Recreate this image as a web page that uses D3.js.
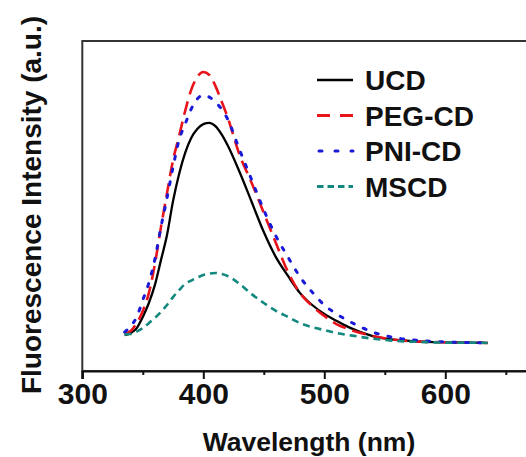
<!DOCTYPE html>
<html>
<head>
<meta charset="utf-8">
<script src="https://cdn.jsdelivr.net/npm/d3@7"></script>
<style>
  html, body { margin: 0; padding: 0; background: #fff; }
  svg { display: block; }
  text { font-family: "Liberation Sans", Arial, sans-serif; font-weight: bold; fill: #111; }
</style>
</head>
<body>
<svg id="chart" width="526" height="457"></svg>
<script>
// ---- data ----
const wavelength = [335,340,345,350,355,360,365,370,375,380,385,390,395,400,405,410,415,420,430,440,450,460,470,480,490,500,510,520,540,560,580,600,620,635];
const UCD    = [109,115,130,164,206,261,336,412,515,597,661,706,733,748,752,742,718,685,603,512,421,345,288,236,200,173,152,133,106,94,89,87,86,85];
const PEG_CD = [112,121,145,182,236,324,436,539,639,712,788,852,891,906,897,864,818,770,655,570,479,388,300,236,197,167,142,127,106,94,89,87,86,85];
const PNI_CD = [118,136,164,215,267,339,436,524,618,700,748,794,824,836,830,815,794,764,670,579,488,409,345,285,239,200,173,152,118,100,92,88,86,85];
const MSCD   = [111,112,120,130,145,161,179,200,224,245,264,274,283,291,295,297,294,288,264,233,206,182,164,145,133,124,115,109,98,91,88,86,86,85];
const seriesNames = ["UCD","PEG-CD","PNI-CD","MSCD"];
const xTicksMajor = [300,400,500,600];
const xTicksMinor = [350,450,550,650];
const xTitle = "Wavelength (nm)";
const yTitle = "Fluorescence Intensity (a.u.)";

// ---- layout ----
const svg = d3.select("#chart");
const mLeft = 82.3, mTop = 41, mBottom = 371;
const x = d3.scaleLinear().domain([300, 700]).range([mLeft, mLeft + 484]);
const y = d3.scaleLinear().domain([0, 1000]).range([mBottom, mTop]);

const styles = {
  "UCD":    {color: "#000000", dash: null,   width: 2.3, legDash: null,     legOff: 0},
  "PEG-CD": {color: "#e8141c", dash: "14,7", width: 2.6, legDash: "13,10",  legOff: 0},
  "PNI-CD": {color: "#1a1ad6", dash: "3,10", width: 3,   legDash: "3,13",   legOff: -2},
  "MSCD":   {color: "#13887e", dash: "7,5",  width: 2.6, legDash: "6.5,4",  legOff: 0}
};
const seriesData = [UCD, PEG_CD, PNI_CD, MSCD];

// frame
svg.append("rect")
  .attr("x", mLeft).attr("y", mTop)
  .attr("width", x(700) - mLeft).attr("height", mBottom - mTop)
  .attr("fill", "none").attr("stroke", "#333").attr("stroke-width", 2);

// curves
const line = d3.line()
  .x((d, i) => x(wavelength[i]))
  .y(d => y(d))
  .curve(d3.curveMonotoneX);

seriesNames.forEach((name, k) => {
  const st = styles[name];
  svg.append("path")
    .datum(seriesData[k])
    .attr("d", line)
    .attr("fill", "none")
    .attr("stroke", st.color)
    .attr("stroke-width", st.width)
    .attr("stroke-dasharray", st.dash)
    .attr("stroke-linecap", name === "PNI-CD" ? "round" : "butt");
});

// x axis
const axisMajor = d3.axisBottom(x).tickValues(xTicksMajor).tickSize(8).tickFormat(d3.format("d"));
const gx = svg.append("g").attr("transform", `translate(0,${mBottom})`).call(axisMajor);
gx.select(".domain").attr("stroke", "#111").attr("stroke-width", 2);
gx.selectAll(".tick line").attr("stroke", "#111").attr("stroke-width", 2);
gx.selectAll(".tick text")
  .attr("y", 12).attr("dy", "0.71em")
  .style("font-size", "30px")
  .style("font-family", "'Liberation Sans', Arial, sans-serif")
  .style("font-weight", "bold").attr("fill", "#111");

const axisMinor = d3.axisBottom(x).tickValues(xTicksMinor).tickSize(4).tickFormat("");
const gm = svg.append("g").attr("transform", `translate(0,${mBottom})`).call(axisMinor);
gm.select(".domain").remove();
gm.selectAll(".tick line").attr("stroke", "#111").attr("stroke-width", 2);

// left axis extension below (tick at 300 outward)
svg.append("line").attr("x1", mLeft).attr("x2", mLeft).attr("y1", mBottom).attr("y2", mBottom + 8)
  .attr("stroke", "#111").attr("stroke-width", 2);

// titles
svg.append("text")
  .attr("x", 309).attr("y", 451)
  .attr("text-anchor", "middle")
  .style("font-size", "26.5px")
  .text(xTitle);

svg.append("text")
  .attr("transform", "translate(41,205) rotate(-90)")
  .attr("text-anchor", "middle")
  .style("font-size", "28px")
  .text(yTitle);

// legend
const legX1 = 317, legX2 = 353, legY0 = 80, legDy = 35.5;
seriesNames.forEach((name, k) => {
  const st = styles[name];
  const yy = legY0 + k * legDy;
  svg.append("line")
    .attr("x1", legX1).attr("x2", legX2)
    .attr("y1", yy).attr("y2", yy)
    .attr("stroke", st.color)
    .attr("stroke-width", name === "UCD" ? 2.5 : 3)
    .attr("stroke-dasharray", st.legDash)
    .attr("stroke-dashoffset", st.legOff)
    .attr("stroke-linecap", name === "PNI-CD" ? "round" : "butt");
  svg.append("text")
    .attr("x", 365).attr("y", yy)
    .attr("dy", "0.36em")
    .style("font-size", "28px")
    .text(name);
});
</script>
</body>
</html>
